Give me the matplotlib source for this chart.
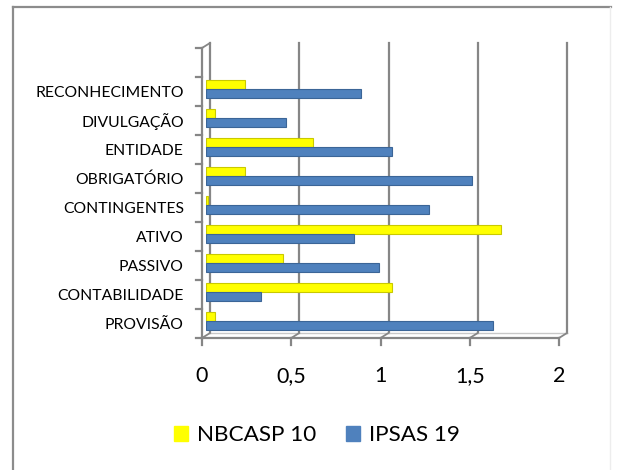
import numpy as np
import matplotlib
matplotlib.use("Agg")
import matplotlib.pyplot as plt
from matplotlib.lines import Line2D
from matplotlib.patches import Patch
from matplotlib.transforms import ScaledTranslation

# data
categories = ["PROVISÃO", "CONTABILIDADE", "PASSIVO", "ATIVO", "CONTINGENTES",
              "OBRIGATÓRIO", "ENTIDADE", "DIVULGAÇÃO", "RECONHECIMENTO"]
nbcasp10 = [0.05, 1.04, 0.43, 1.65, 0.01, 0.22, 0.60, 0.05, 0.22]
ipsas19 = [1.61, 0.31, 0.97, 0.83, 1.25, 1.49, 1.04, 0.45, 0.87]
xticks = [0, 0.5, 1, 1.5, 2]
xticklabels = ["0", "0,5", "1", "1,5", "2"]

W, H = 619, 470
DPI = 100
YELLOW = "#FFFF00"
BLUE = "#4F81BD"
GRID = "#868686"

plt.rcParams['font.family'] = ['Lato', 'DejaVu Sans']

fig = plt.figure(figsize=(W / DPI, H / DPI), dpi=DPI)
# axes = middle depth of the fake 3d box
left, right, top, bottom = 206, 563, 45.5, 335.5
ax = fig.add_axes([left / W, 1 - bottom / H, (right - left) / W, (bottom - top) / H])
ax.set_xlim(0, 2)
ax.set_ylim(-0.5, 9.5)
for s in ax.spines.values():
    s.set_visible(False)


def shift(dx, dy):
    # pixel offset on top of data coords
    return ax.transData + ScaledTranslation(dx / DPI, -dy / DPI, fig.dpi_scale_trans)


front = shift(-4, 2.5)
back = shift(4, -2.5)

# back wall gridlines + floor
for v in xticks:
    ax.add_line(Line2D([v, v], [-0.5, 9.5], transform=back, color=GRID, lw=1.6,
                       zorder=0, clip_on=False))
ax.add_line(Line2D([0, 2], [-0.5, -0.5], transform=back, color="#c8c8c8", lw=1.0,
                   zorder=0, clip_on=False))
# diagonals from front to back wall
corners = [(v, -0.5) for v in xticks] + [(0, 9.5)]
for cx, cy in corners:
    x0, y0 = ax.transData.transform((cx, cy))
    ax.add_line(Line2D([x0 - 4, x0 + 4], [y0 - 2.5, y0 + 2.5], transform=None,
                       color=GRID, lw=1.3, zorder=0, clip_on=False))

# bars
y = np.arange(len(categories))
h = 0.31
ax.barh(y - 0.14, ipsas19, height=h, color=BLUE, edgecolor="#3b6597", lw=0.8, zorder=3)
ax.barh(y + 0.14, nbcasp10, height=h, color=YELLOW, edgecolor="#c9c900", lw=0.8, zorder=2)

# front axes lines and ticks
ax.add_line(Line2D([0, 2], [-0.5, -0.5], transform=front, color=GRID, lw=1.6,
                   zorder=4, clip_on=False))
ax.add_line(Line2D([0, 0], [-0.5, 9.5], transform=front, color=GRID, lw=1.6,
                   zorder=4, clip_on=False))
for v in xticks:
    x0, y0 = front.transform((v, -0.5))
    ax.add_line(Line2D([x0, x0], [y0, y0 - 7], transform=None, color=GRID, lw=1.6,
                       clip_on=False))
for b in np.arange(-0.5, 10, 1.0):
    x0, y0 = front.transform((0, b))
    ax.add_line(Line2D([x0 - 6, x0], [y0, y0], transform=None, color=GRID, lw=1.6,
                       clip_on=False))

# tick labels
ax.set_xticks(xticks)
ax.set_xticklabels(xticklabels, fontsize=15.5)
ax.set_yticks(y)
ax.set_yticklabels(categories, fontsize=11.3)
ax.tick_params(axis='x', length=0, pad=22)
ax.tick_params(axis='y', length=0, pad=16)
for lab in ax.get_xticklabels():
    lab.set_transform(lab.get_transform() + ScaledTranslation(-4 / DPI, 0, fig.dpi_scale_trans))
for lab in ax.get_yticklabels():
    lab.set_transform(lab.get_transform() + ScaledTranslation(0, -2.5 / DPI, fig.dpi_scale_trans))

# legend
handles = [Patch(color=YELLOW, label="NBCASP 10"), Patch(color=BLUE, label="IPSAS 19")]
fig.legend(handles=handles, loc="center", bbox_to_anchor=(317 / W, 1 - 435 / H),
           ncol=2, frameon=False, fontsize=16.2, handlelength=0.65, handleheight=0.65,
           handletextpad=0.4, columnspacing=1.3)

# chart-area frame
fig.add_artist(Line2D([13, 611], [H - 7, H - 7], transform=None, color="#8c8c8c", lw=1.6))
fig.add_artist(Line2D([13, 13], [H - 7, 0], transform=None, color="#8c8c8c", lw=1.6))
fig.add_artist(Line2D([610, 610], [H - 7, 0], transform=None, color="#ededed", lw=1.0))

fig.savefig("out.png", dpi=DPI)
